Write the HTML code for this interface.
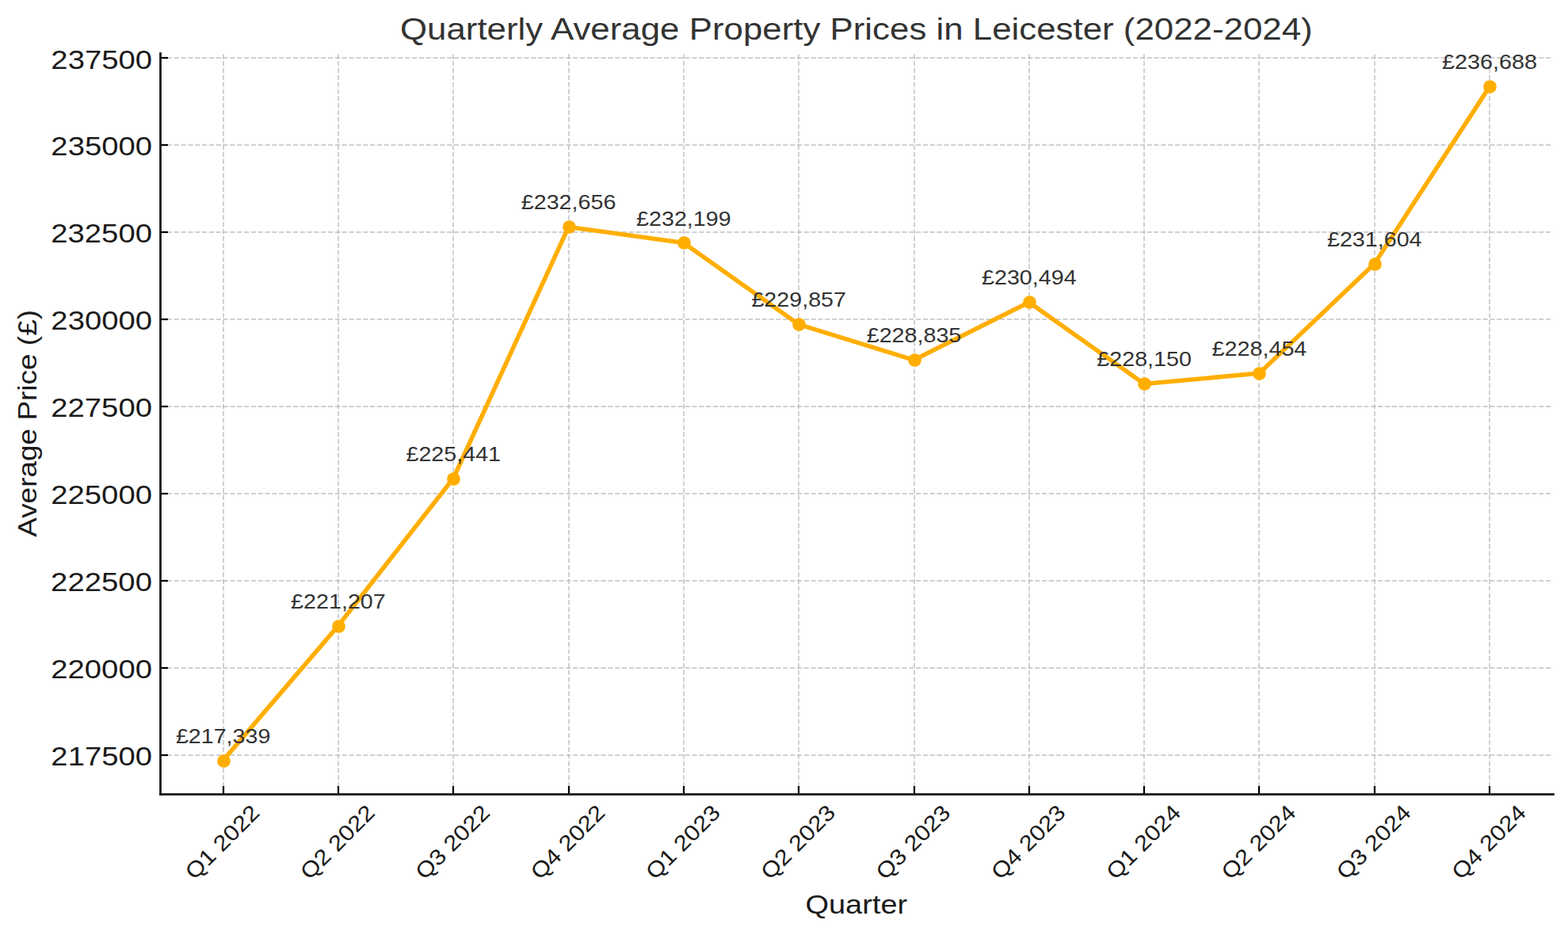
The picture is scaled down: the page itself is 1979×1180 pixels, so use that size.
<!DOCTYPE html>
<html lang="en"><head><meta charset="utf-8">
<title>Quarterly Average Property Prices in Leicester (2022-2024)</title>
<style>
html,body{margin:0;padding:0;background:#fff}
body{width:1979px;height:1180px;overflow:hidden}
svg{display:block}
.t{font-family:"Liberation Sans",sans-serif;stroke:none}
.grid line{stroke:#b0b0b0;stroke-opacity:.7;stroke-width:1.6667;stroke-dasharray:6.1667 2.6667;fill:none}
.grid .h{stroke-width:2;stroke-opacity:.595}
.ticks line{stroke:#000;stroke-width:2.2222}
.spines rect{fill:#1a1a1a}.spines .e{fill-opacity:.889}
.c1{fill:#1a1a1a}.c3{fill:#333}
</style></head><body>
<svg width="1979" height="1180" viewBox="0 0 1979 1180" role="img" aria-label="Line chart: Quarterly Average Property Prices in Leicester (2022-2024)">
<rect width="1979" height="1180" fill="#fff"/>
<g class="grid">
<line x1="282" y1="1002" x2="282" y2="67"/>
<line x1="427" y1="1002" x2="427" y2="67"/>
<line x1="572" y1="1002" x2="572" y2="67"/>
<line x1="718" y1="1002" x2="718" y2="67"/>
<line x1="863" y1="1002" x2="863" y2="67"/>
<line x1="1008" y1="1002" x2="1008" y2="67"/>
<line x1="1154" y1="1002" x2="1154" y2="67"/>
<line x1="1299" y1="1002" x2="1299" y2="67"/>
<line x1="1444" y1="1002" x2="1444" y2="67"/>
<line x1="1589" y1="1002" x2="1589" y2="67"/>
<line x1="1735" y1="1002" x2="1735" y2="67"/>
<line x1="1880" y1="1002" x2="1880" y2="67"/>
<line class="h" x1="202" y1="73" x2="1960" y2="73"/>
<line class="h" x1="202" y1="183" x2="1960" y2="183"/>
<line class="h" x1="202" y1="293" x2="1960" y2="293"/>
<line class="h" x1="202" y1="403" x2="1960" y2="403"/>
<line class="h" x1="202" y1="513" x2="1960" y2="513"/>
<line class="h" x1="202" y1="623" x2="1960" y2="623"/>
<line class="h" x1="202" y1="733" x2="1960" y2="733"/>
<line class="h" x1="202" y1="843" x2="1960" y2="843"/>
<line class="h" x1="202" y1="953" x2="1960" y2="953"/>
</g>
<g class="ticks">
<line x1="282" y1="1002" x2="282" y2="992"/>
<line x1="427" y1="1002" x2="427" y2="992"/>
<line x1="572" y1="1002" x2="572" y2="992"/>
<line x1="718" y1="1002" x2="718" y2="992"/>
<line x1="863" y1="1002" x2="863" y2="992"/>
<line x1="1008" y1="1002" x2="1008" y2="992"/>
<line x1="1154" y1="1002" x2="1154" y2="992"/>
<line x1="1299" y1="1002" x2="1299" y2="992"/>
<line x1="1444" y1="1002" x2="1444" y2="992"/>
<line x1="1589" y1="1002" x2="1589" y2="992"/>
<line x1="1735" y1="1002" x2="1735" y2="992"/>
<line x1="1880" y1="1002" x2="1880" y2="992"/>
<line x1="202" y1="73" x2="212" y2="73"/>
<line x1="202" y1="183" x2="212" y2="183"/>
<line x1="202" y1="293" x2="212" y2="293"/>
<line x1="202" y1="403" x2="212" y2="403"/>
<line x1="202" y1="513" x2="212" y2="513"/>
<line x1="202" y1="623" x2="212" y2="623"/>
<line x1="202" y1="733" x2="212" y2="733"/>
<line x1="202" y1="843" x2="212" y2="843"/>
<line x1="202" y1="953" x2="212" y2="953"/>
</g>
<polyline fill="none" stroke="#FFAE00" stroke-width="5.5556" stroke-linejoin="round" stroke-linecap="square" points="281.63,959.61 426.94,789.61 572.26,603.51 717.57,286.4 862.88,306.49 1008.2,409.42 1153.51,454.34 1298.82,381.43 1444.14,484.45 1589.45,471.09 1734.76,332.64 1880.08,109.19"/>
<g fill="#FFAE00">
<circle cx="282.5" cy="960.5" r="8.3333"/>
<circle cx="427.5" cy="790.5" r="8.3333"/>
<circle cx="572.5" cy="604.5" r="8.3333"/>
<circle cx="718.5" cy="286.5" r="8.3333"/>
<circle cx="863.5" cy="306.5" r="8.3333"/>
<circle cx="1008.5" cy="409.5" r="8.3333"/>
<circle cx="1154.5" cy="454.5" r="8.3333"/>
<circle cx="1299.5" cy="381.5" r="8.3333"/>
<circle cx="1444.5" cy="484.5" r="8.3333"/>
<circle cx="1589.5" cy="471.5" r="8.3333"/>
<circle cx="1735.5" cy="333.5" r="8.3333"/>
<circle cx="1880.5" cy="109.5" r="8.3333"/>
</g>
<g class="spines">
<rect x="201.1111" y="67" width="2.7778" height="936"/>
<rect class="e" x="201.1111" y="66" width="2.7778" height="1"/>
<rect class="e" x="201.1111" y="1003" width="2.7778" height="1"/>
<rect class="e" x="201.1111" y="1001" width="1760.7778" height="1"/>
<rect x="201.1111" y="1002" width="1760.7778" height="1"/>
<rect class="e" x="201.1111" y="1003" width="1760.7778" height="1"/>
</g>
<g class="labels">
<text class="t c3" x="504.98" y="50" font-size="38.89" textLength="1151.75" lengthAdjust="spacingAndGlyphs">Quarterly Average Property Prices in Leicester (2022-2024)</text>
<text class="t c1" x="46" y="677.84" font-size="33.33" textLength="286.88" lengthAdjust="spacingAndGlyphs" transform="rotate(-90 46 677.84)">Average Price (£)</text>
<text class="t c1" x="64.36" y="965.54" font-size="33.33" textLength="127.62" lengthAdjust="spacingAndGlyphs">217500</text>
<text class="t c1" x="64.24" y="855.66" font-size="33.33" textLength="127.75" lengthAdjust="spacingAndGlyphs">220000</text>
<text class="t c1" x="64.11" y="745.78" font-size="33.33" textLength="127.88" lengthAdjust="spacingAndGlyphs">222500</text>
<text class="t c1" x="64.24" y="635.9" font-size="33.33" textLength="127.75" lengthAdjust="spacingAndGlyphs">225000</text>
<text class="t c1" x="64.24" y="526.02" font-size="33.33" textLength="127.75" lengthAdjust="spacingAndGlyphs">227500</text>
<text class="t c1" x="64.36" y="416.14" font-size="33.33" textLength="127.62" lengthAdjust="spacingAndGlyphs">230000</text>
<text class="t c1" x="64.24" y="306.26" font-size="33.33" textLength="127.75" lengthAdjust="spacingAndGlyphs">232500</text>
<text class="t c1" x="64.36" y="196.38" font-size="33.33" textLength="127.62" lengthAdjust="spacingAndGlyphs">235000</text>
<text class="t c1" x="64.36" y="86.5" font-size="33.33" textLength="127.62" lengthAdjust="spacingAndGlyphs">237500</text>
<text class="t c3" x="221.94" y="937.64" font-size="25" textLength="119.38" lengthAdjust="spacingAndGlyphs">£217,339</text>
<text class="t c3" x="367.13" y="767.63" font-size="25" textLength="119.62" lengthAdjust="spacingAndGlyphs">£221,207</text>
<text class="t c3" x="512.44" y="581.54" font-size="25" textLength="119.62" lengthAdjust="spacingAndGlyphs">£225,441</text>
<text class="t c3" x="657.76" y="264.43" font-size="25" textLength="119.62" lengthAdjust="spacingAndGlyphs">£232,656</text>
<text class="t c3" x="803.13" y="284.51" font-size="25" textLength="119.5" lengthAdjust="spacingAndGlyphs">£232,199</text>
<text class="t c3" x="948.45" y="387.45" font-size="25" textLength="119.5" lengthAdjust="spacingAndGlyphs">£229,857</text>
<text class="t c3" x="1093.7" y="432.37" font-size="25" textLength="119.62" lengthAdjust="spacingAndGlyphs">£228,835</text>
<text class="t c3" x="1239.01" y="359.45" font-size="25" textLength="119.62" lengthAdjust="spacingAndGlyphs">£230,494</text>
<text class="t c3" x="1384.39" y="462.47" font-size="25" textLength="119.5" lengthAdjust="spacingAndGlyphs">£228,150</text>
<text class="t c3" x="1529.58" y="449.11" font-size="25" textLength="119.75" lengthAdjust="spacingAndGlyphs">£228,454</text>
<text class="t c3" x="1674.95" y="310.66" font-size="25" textLength="119.62" lengthAdjust="spacingAndGlyphs">£231,604</text>
<text class="t c3" x="1820.14" y="87.21" font-size="25" textLength="119.88" lengthAdjust="spacingAndGlyphs">£236,688</text>
<text class="t c1" x="245.26" y="1111.47" font-size="27.78" textLength="118.88" lengthAdjust="spacingAndGlyphs" transform="rotate(-45 245.26 1111.47)">Q1 2022</text>
<text class="t c1" x="390.57" y="1111.47" font-size="27.78" textLength="118.88" lengthAdjust="spacingAndGlyphs" transform="rotate(-45 390.57 1111.47)">Q2 2022</text>
<text class="t c1" x="535.84" y="1111.56" font-size="27.78" textLength="119" lengthAdjust="spacingAndGlyphs" transform="rotate(-45 535.84 1111.56)">Q3 2022</text>
<text class="t c1" x="681.2" y="1111.47" font-size="27.78" textLength="118.88" lengthAdjust="spacingAndGlyphs" transform="rotate(-45 681.2 1111.47)">Q4 2022</text>
<text class="t c1" x="826.47" y="1111.56" font-size="27.78" textLength="119" lengthAdjust="spacingAndGlyphs" transform="rotate(-45 826.47 1111.56)">Q1 2023</text>
<text class="t c1" x="971.78" y="1111.56" font-size="27.78" textLength="119" lengthAdjust="spacingAndGlyphs" transform="rotate(-45 971.78 1111.56)">Q2 2023</text>
<text class="t c1" x="1117.05" y="1111.65" font-size="27.78" textLength="119.12" lengthAdjust="spacingAndGlyphs" transform="rotate(-45 1117.05 1111.65)">Q3 2023</text>
<text class="t c1" x="1262.41" y="1111.56" font-size="27.78" textLength="119" lengthAdjust="spacingAndGlyphs" transform="rotate(-45 1262.41 1111.56)">Q4 2023</text>
<text class="t c1" x="1407.77" y="1111.47" font-size="27.78" textLength="118.88" lengthAdjust="spacingAndGlyphs" transform="rotate(-45 1407.77 1111.47)">Q1 2024</text>
<text class="t c1" x="1553.08" y="1111.47" font-size="27.78" textLength="118.88" lengthAdjust="spacingAndGlyphs" transform="rotate(-45 1553.08 1111.47)">Q2 2024</text>
<text class="t c1" x="1698.35" y="1111.56" font-size="27.78" textLength="119" lengthAdjust="spacingAndGlyphs" transform="rotate(-45 1698.35 1111.56)">Q3 2024</text>
<text class="t c1" x="1843.71" y="1111.47" font-size="27.78" textLength="118.88" lengthAdjust="spacingAndGlyphs" transform="rotate(-45 1843.71 1111.47)">Q4 2024</text>
<text class="t c1" x="1016.48" y="1153" font-size="33.33" textLength="128.75" lengthAdjust="spacingAndGlyphs">Quarter</text>
</g>
</svg>
</body></html>
